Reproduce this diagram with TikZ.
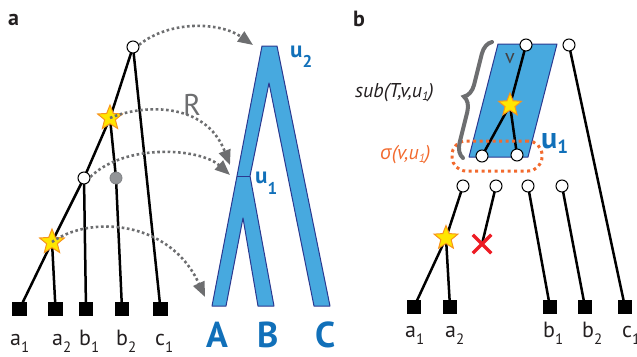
\documentclass[tikz,border=0pt]{standalone}
\usepackage{fontspec}
\setmainfont{PT Sans}
\newfontfamily\grk{Open Sans}
\usetikzlibrary{shapes.geometric,shapes.misc,arrows.meta,decorations.pathreplacing,backgrounds}
\definecolor{tblue}{HTML}{47A9DF}
\definecolor{tnavy}{HTML}{2B3990}
\definecolor{tlab}{HTML}{1170B9}
\definecolor{tgray}{HTML}{6D6E70}
\definecolor{tor}{HTML}{F26A2E}
\definecolor{tyel}{HTML}{FFE600}
\definecolor{tstar}{HTML}{F7941D}
\definecolor{ttext}{HTML}{231F20}
\definecolor{cgray}{HTML}{939598}
\definecolor{cgrayd}{HTML}{808285}
\definecolor{tred}{HTML}{ED1C24}
\newcommand\lsub[1]{\raisebox{-7pt}{\fontsize{15}{15}\selectfont #1}}
\tikzset{
  edge/.style={line width=2.5pt, draw=black, line cap=round},
  opn/.style={circle, draw=black, fill=white, line width=1pt, minimum size=12pt, inner sep=0pt},
  grayc/.style={circle, draw=cgrayd, fill=cgray, line width=0.8pt, minimum size=12pt, inner sep=0pt},
  leaf/.style={rectangle, fill=black, minimum size=14.5pt, inner sep=0pt},
  dup/.style={star, star points=5, star point ratio=2.3, fill=tyel, draw=tstar, line width=1pt, minimum size=26pt, inner sep=0pt},
  maparrow/.style={draw=tgray, line width=2.6pt, dash pattern=on 2.6pt off 2.6pt, -{Triangle[length=15pt,width=12pt,fill=tgray]}},
  llab/.style={anchor=base west, inner sep=0pt, text=ttext, font=\fontsize{22}{22}\selectfont},
  big/.style={anchor=base west, inner sep=0pt, text depth=0pt, text=tlab, font=\bfseries\fontsize{36}{36}\selectfont},
  ulab/.style={anchor=base west, inner sep=0pt, text=tlab, font=\bfseries\fontsize{23}{23}\selectfont},
  plab/.style={anchor=base west, inner sep=0pt, text=ttext, font=\bfseries\fontsize{22}{22}\selectfont},
  species/.style={fill=tblue, draw=tnavy, line width=1pt, line join=round},
  brc/.style={draw=tgray, line width=4pt, line cap=round, decorate, decoration={brace, amplitude=14pt}},
  sigbox/.style={draw=tor, line width=3pt, dash pattern=on 3pt off 3.5pt, rounded corners=14pt, minimum width=90pt, minimum height=30pt, inner sep=0pt},
  xmark/.style={cross out, draw=tred, line width=3.5pt, minimum size=15pt, inner sep=0pt}
}
\begin{document}
\begin{tikzpicture}[x=1pt,y=-1pt]
\useasboundingbox (0,0) rectangle (637,356);

% ---------- panel a ----------
\node[plab] (pa) at (8,25) {a};
\node[opn] (rA) at (133,47) {};
\node[dup] (sA1) at (110,118) {};
\node[opn] (mA) at (84,178) {};
\node[grayc] (gA) at (116,178) {};
\node[dup] (sA2) at (52,242) {};
\node[leaf] (la1) at (19.5,309) {};
\node[leaf] (la2) at (55.5,309) {};
\node[leaf] (lb1) at (86,309) {};
\node[leaf] (lb2) at (122,309) {};
\node[leaf] (lc1) at (160.5,309) {};
\node[llab] at (10,345) {a\lsub{1}};
\node[llab] at (52,345) {a\lsub{2}};
\node[llab] at (79,345) {b\lsub{1}};
\node[llab] at (116,345) {b\lsub{2}};
\node[llab] at (155,345) {c\lsub{1}};

% species tree
\coordinate (tU2) at (253,45);
\coordinate (tU1a) at (230,165);
\coordinate (tU1b) at (230,175);
\coordinate (tA) at (205,297);
\node[ulab] (u2) at (290,57) {u\raisebox{-10pt}{\fontsize{17}{17}\selectfont 2}};
\node[ulab] (u1a) at (255,183) {u\raisebox{-11pt}{\fontsize{17}{17}\selectfont 1}};
\node[big] (A) at (206,347) {A};
\node[big] (B) at (257,347) {B};
\node[big] (C) at (315,347) {C};
\node[anchor=base west, inner sep=0pt, text=tgray, font=\fontsize{30}{30}\selectfont] (R) at (183,115) {R};

% ---------- panel b ----------
\node[plab] (pb) at (353,26) {b};
\node[opn] (vB) at (526,45) {};
\node[opn] (cB) at (569,45) {};
\node[dup, minimum size=24pt] (sB1) at (510,105) {};
\node[sigbox] (sig) at (497,156) {};
\node[opn] (bL) at (482,156) {};
\node[opn] (bR) at (517,155) {};
\node[opn] (q1) at (463,186) {};
\node[opn] (q2) at (496,186) {};
\node[opn] (q3) at (528,186) {};
\node[opn] (q4) at (562,186) {};
\node[dup, minimum size=25pt] (sB2) at (446,238) {};
\node[xmark] (xx) at (482,244) {};
\node[leaf] (ma1) at (414,307) {};
\node[leaf] (ma2) at (450,307) {};
\node[leaf] (mb1) at (550,307) {};
\node[leaf] (mb2) at (585,307) {};
\node[leaf] (mc1) at (625,307) {};
\node[llab] at (405,337) {a\lsub{1}};
\node[llab] at (445,337) {a\lsub{2}};
\node[llab] at (543,337) {b\lsub{1}};
\node[llab] at (582,337) {b\lsub{2}};
\node[llab] at (622,337) {c\lsub{1}};
\node[anchor=base west, inner sep=0pt, text=ttext!85, font=\fontsize{20}{20}\selectfont] (vl) at (505,63) {v};
\node[anchor=base west, inner sep=0pt, text=tlab, font=\bfseries\fontsize{30}{30}\selectfont] (u1b) at (541,148) {u\raisebox{-5pt}{\fontsize{19}{19}\selectfont 1}};
\node[anchor=base west, inner sep=0pt, text=ttext, font=\itshape\fontsize{20}{20}\selectfont] (subl) at (355,97) {sub(T,v,u\raisebox{-3pt}{\fontsize{12}{12}\selectfont 1})};
\node[anchor=base west, inner sep=0pt, text=tor, font=\itshape\fontsize{20}{20}\selectfont] (sigl) at (380,159) {{\grk\itshape σ}(v,u\raisebox{-3pt}{\fontsize{12}{12}\selectfont 1})};
\coordinate (brB) at (463,158);
\coordinate (brT) at (492,42);
\draw[brc] (brB) -- (brT);

\begin{scope}[on background layer]
  \draw[species] (262,46) -- (277,46) -- (330,306) -- (314,306) -- (269,83) -- (250,176) -- (274,306) -- (258,306) -- (243,218) -- (226,306) -- (212,306) -- (237,176) -- cycle;
  \draw[species] (237,176) -- (250,176);
  \draw[species] (498,44) -- (557,44) -- (528,157) -- (469,157) -- cycle;
  % gene tree a
  \draw[edge] (rA.center) -- (sA1.center) -- (mA.center) -- (sA2.center) -- (la1.center);
  \draw[edge] (rA.center) -- (lc1.center);
  \draw[edge] (sA1.center) -- (gA.center) -- (lb2.center);
  \draw[edge] (mA.center) -- (lb1.center);
  \draw[edge] (sA2.center) -- (la2.center);
  % gene tree b
  \draw[edge] (vB.center) -- (sB1.center) -- (bL.center);
  \draw[edge] (sB1.center) -- (bR.center);
  \draw[edge] (cB.center) -- (mc1.center);
  \draw[edge] (q1.center) -- (sB2.center) -- (ma1.center);
  \draw[edge] (sB2.center) -- (ma2.center);
  \draw[edge] (q2.center) -- (xx.center);
  \draw[edge] (q3.center) -- (mb1.center);
  \draw[edge] (q4.center) -- (mb2.center);
\end{scope}

% mapping arrows
\draw[maparrow] (rA.20) .. controls (170,20) and (220,22) .. (tU2);
\draw[maparrow] (sA1.center) .. controls (140,105) and (205,100) .. (tU1a);
\draw[maparrow] (mA.10) .. controls (125,143) and (200,148) .. (tU1b);
\draw[maparrow] (sA2.center) .. controls (90,215) and (170,220) .. (tA);
\end{tikzpicture}
\end{document}
